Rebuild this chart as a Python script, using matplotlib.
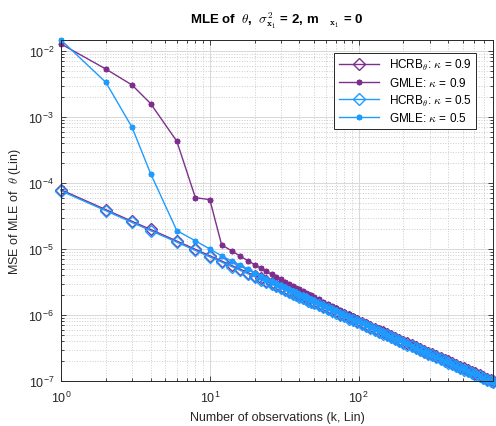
import numpy as np
import matplotlib
matplotlib.use('Agg')
import matplotlib.pyplot as plt
from matplotlib.ticker import LogLocator, FuncFormatter, NullFormatter

# number of observations
k = [1, 2, 3, 4, 6, 8, 10, 12, 14, 16, 18, 20, 22, 24, 26, 28, 30, 32, 34, 36,
     38, 40, 42, 44, 46, 48, 50, 54, 58, 62, 66, 70, 75, 80, 86, 92, 98, 105,
     112, 120, 128, 136, 145, 155, 165, 176, 188, 200, 213, 227, 242, 258, 275,
     293, 312, 333, 355, 378, 400, 425, 450, 480, 510, 540, 575, 610, 650, 690,
     730, 770, 800]

# MSE values, in units of 1e-7
hcrb_09 = [790, 395, 263, 198, 132, 98.8, 79, 65.8, 56.4, 49.4, 43.9, 39.5, 35.9,
           32.9, 30.4, 28.2, 26.3, 24.7, 23.2, 21.9, 20.8, 19.75, 18.8, 17.95,
           17.2, 16.5, 15.8, 14.6, 13.6, 12.7, 12.0, 11.3, 10.5, 9.88, 9.19, 8.59,
           8.06, 7.52, 7.05, 6.58, 6.17, 5.81, 5.45, 5.10, 4.79, 4.49, 4.20, 3.95,
           3.71, 3.48, 3.26, 3.06, 2.87, 2.70, 2.53, 2.37, 2.23, 2.09, 1.98, 1.86,
           1.76, 1.65, 1.55, 1.46, 1.37, 1.30, 1.22, 1.14, 1.08, 1.03, 0.99]
gmle_09 = [128000, 53400, 30600, 16000, 4300, 600, 560, 116, 93.8, 78.1, 66.6,
           58.0, 51.2, 45.8, 41.4, 37.7, 34.6, 32.0, 29.7, 27.7, 26.0, 24.5, 23.1,
           21.9, 20.8, 19.8, 18.9, 17.3, 15.9, 14.8, 13.8, 12.9, 11.9, 11.1, 10.3,
           9.52, 8.89, 8.25, 7.71, 7.15, 6.67, 6.26, 5.84, 5.45, 5.11, 4.76, 4.44,
           4.17, 3.91, 3.66, 3.42, 3.20, 3.0, 2.81, 2.63, 2.46, 2.31, 2.16, 2.04,
           1.92, 1.81, 1.69, 1.59, 1.50, 1.41, 1.33, 1.24, 1.17, 1.11, 1.05, 1.01]
hcrb_05 = [760, 380, 253, 190, 127, 95, 76, 63.3, 54.3, 47.5, 42.2, 38, 34.5, 31.7,
           29.2, 27.1, 25.3, 23.75, 22.4, 21.1, 20.0, 19.0, 18.1, 17.3, 16.5, 15.8,
           15.2, 14.1, 13.1, 12.3, 11.5, 10.9, 10.1, 9.5, 8.84, 8.26, 7.76, 7.24,
           6.79, 6.33, 5.94, 5.59, 5.24, 4.90, 4.61, 4.32, 4.04, 3.80, 3.57, 3.35,
           3.14, 2.95, 2.76, 2.59, 2.44, 2.28, 2.14, 2.01, 1.90, 1.79, 1.69, 1.58,
           1.49, 1.41, 1.32, 1.25, 1.17, 1.10, 1.04, 0.99, 0.95]
gmle_05 = [147000, 33600, 7000, 1390, 190, 133, 100, 79, 65.9, 56.4, 49.3, 43.7,
           39.2, 35.6, 32.6, 30.0, 27.9, 26.0, 24.3, 22.9, 21.6, 20.4, 19.4, 18.5,
           17.6, 16.8, 16.1, 14.9, 13.8, 12.9, 12.0, 11.3, 10.5, 9.86, 9.15, 8.53,
           8.0, 7.45, 6.97, 6.49, 6.08, 5.71, 5.35, 5.0, 4.69, 4.39, 4.11, 3.86,
           3.62, 3.39, 3.18, 2.98, 2.79, 2.62, 2.46, 2.30, 2.16, 2.03, 1.91, 1.80,
           1.70, 1.59, 1.50, 1.42, 1.33, 1.26, 1.18, 1.11, 1.05, 0.99, 0.954]

scale = 1e-7
purple = '#7E2F8E'
blue = '#1E9BFF'

plt.rcParams['font.family'] = ['Liberation Sans', 'DejaVu Sans']
plt.rcParams['mathtext.fontset'] = 'cm'
plt.rcParams['font.size'] = 8

fig = plt.figure(figsize=(4.96, 4.27), dpi=100)
ax = fig.add_axes([0.123, 0.1054, 0.871, 0.7986])

star = (8, 2, 0)
ax.plot(k, np.array(hcrb_09) * scale, color=purple, lw=1, marker='D', ms=6,
        mfc='none', mew=1, clip_on=False, label=r'HCRB$_\theta$: $\kappa$ = 0.9')
ax.plot(k, np.array(gmle_09) * scale, color=purple, lw=1, marker=star, ms=4,
        mew=1.3, clip_on=False, label=r'GMLE: $\kappa$ = 0.9')
ax.plot(k, np.array(hcrb_05) * scale, color=blue, lw=1, marker='D', ms=6,
        mfc='none', mew=1, clip_on=False, label=r'HCRB$_\theta$: $\kappa$ = 0.5')
ax.plot(k, np.array(gmle_05) * scale, color=blue, lw=1, marker=star, ms=4,
        mew=1.3, clip_on=False, label=r'GMLE: $\kappa$ = 0.5')

ax.set_xscale('log')
ax.set_yscale('log')
ax.set_xlim(1, 800)
ax.set_ylim(1e-7, 0.0147)

ax.xaxis.set_major_locator(LogLocator(base=10, numticks=10))
ax.yaxis.set_major_locator(LogLocator(base=10, numticks=10))
ax.xaxis.set_minor_locator(LogLocator(base=10, subs=np.arange(2, 10), numticks=20))
ax.yaxis.set_minor_locator(LogLocator(base=10, subs=np.arange(2, 10), numticks=20))
pow_fmt = FuncFormatter(lambda v, p: r'$\mathregular{10^{%d}}$' % round(np.log10(v)))
ax.xaxis.set_major_formatter(pow_fmt)
ax.yaxis.set_major_formatter(pow_fmt)
ax.xaxis.set_minor_formatter(NullFormatter())
ax.yaxis.set_minor_formatter(NullFormatter())

ax.grid(True, which='major', color='#d8d8d8', lw=0.7, ls='-')
ax.grid(True, which='minor', color='#cccccc', lw=0.7, ls=':')
ax.set_axisbelow(True)
ax.tick_params(which='both', direction='in', top=True, right=True,
               colors='#262626', labelsize=9, labelcolor='#262626')
ax.tick_params(axis='x', which='major', pad=6)
ax.tick_params(axis='y', which='major', pad=5)
ax.tick_params(which='major', length=3.5, width=0.6)
ax.tick_params(which='minor', length=2, width=0.6)
for sp in ax.spines.values():
    sp.set_color('#262626')
    sp.set_linewidth(0.7)

ax.set_xlabel('Number of observations (k, Lin)', fontsize=9, color='#262626',
              labelpad=5)
ax.set_ylabel(r'MSE of MLE of  $\theta$ (Lin)', fontsize=9, color='#262626',
              labelpad=4)
ax.set_title(r'MLE of  $\theta$,  $\sigma^{\mathbf{2}}_{\mathbf{x_1}}$ = 2, m   $_{\mathbf{x_1}}$ = 0',
             fontsize=9.5, fontweight='bold', pad=12)

leg = ax.legend(loc='upper right', bbox_to_anchor=(0.975, 0.98), fontsize=8.5,
                handlelength=3.4, fancybox=False, framealpha=1,
                edgecolor='#262626', borderpad=0.4, labelspacing=0.3)
leg.get_frame().set_linewidth(0.7)

fig.savefig('out.png', dpi=100)
